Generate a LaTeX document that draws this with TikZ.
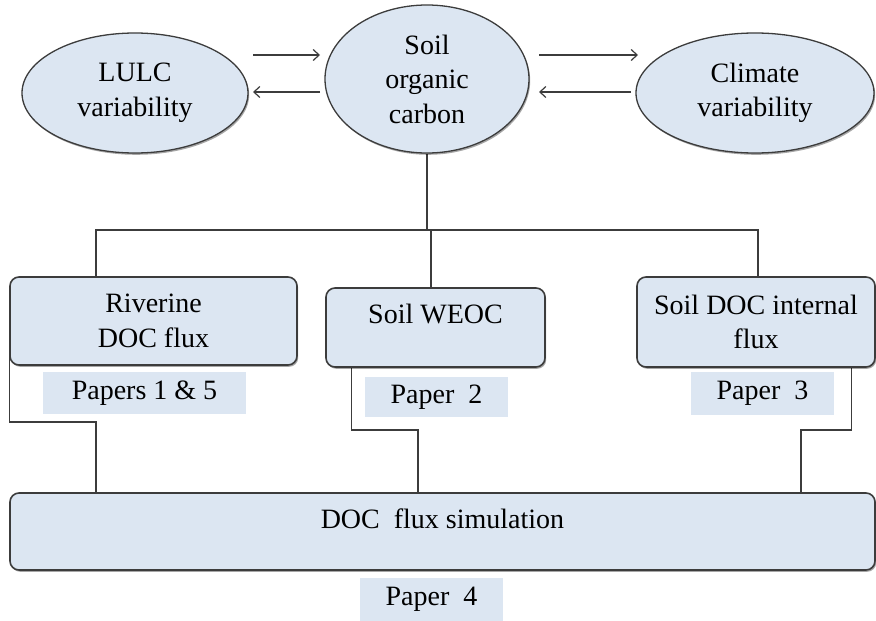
\documentclass[tikz,border=0pt]{standalone}
\usepackage{fontspec}
\newfontfamily\tnr{LiberationSerif-Regular.ttf}
\usetikzlibrary{shapes.geometric,shadows,arrows.meta,backgrounds}
\definecolor{boxfill}{HTML}{DCE6F2}
\definecolor{edge}{HTML}{3C3C3C}
\tikzset{
  shad/.style={drop shadow={shadow xshift=1.2pt,shadow yshift=-1.8pt,opacity=0.35,fill=black}},
  oval/.style={ellipse,draw=edge,line width=1.3pt,fill=boxfill,shad,align=center,inner sep=0pt},
  rbox/.style={rectangle,rounded corners=9pt,draw=edge,line width=1.6pt,fill=boxfill,shad,align=center,inner sep=0pt},
  tag/.style={rectangle,fill=boxfill,inner sep=0pt,align=center},
  link/.style={draw=edge,line width=1.3pt},
  arr/.style={link,-{Straight Barb[length=6pt,width=11pt,line width=1.2pt]}}
}
\begin{document}
\begin{tikzpicture}[x=1pt,y=-1pt,font=\tnr\fontsize{28}{34.5}\selectfont]
\useasboundingbox (0,0) rectangle (876,621);
\node[oval,minimum width=226pt,minimum height=120pt] (lulc) at (135,93) {LULC\\variability};
\node[oval,minimum width=204pt,minimum height=148pt] (soc) at (427,79) {Soil\\organic\\carbon};
\node[oval,minimum width=238pt,minimum height=120pt] (clim) at (755,93) {Climate\\variability};

\node[rbox,minimum width=287pt,minimum height=88pt] (riv) at (153.5,321) {Riverine\\DOC flux};
\node[rbox,minimum width=219pt,minimum height=79pt,text height=19pt,text depth=28pt] (weoc) at (435.5,327.5) {Soil WEOC};
\node[rbox,minimum width=238pt,minimum height=90pt] (doci) at (756,322) {Soil DOC internal\\flux};
\node[rbox,minimum width=865pt,minimum height=77pt,text height=19pt,text depth=26pt] (sim) at (442.5,531.5) {DOC~ flux simulation};

\node[tag,minimum width=203pt,minimum height=42pt] (p15) at (144.5,393) {Papers 1 \& 5};
\node[tag,minimum width=143pt,minimum height=40pt] (p2) at (436.5,397) {Paper~ 2};
\node[tag,minimum width=143pt,minimum height=43pt] (p3) at (762.5,393.5) {Paper~ 3};
\node[tag,minimum width=143pt,minimum height=43pt] (p4) at (431.5,599.5) {Paper~ 4};

\coordinate (la1) at (253,55);
\coordinate (la2) at (320,55);
\coordinate (lb1) at (320,92);
\coordinate (lb2) at (253,92);
\coordinate (ra1) at (539,55);
\coordinate (ra2) at (638,55);
\coordinate (rb1) at (631,92);
\coordinate (rb2) at (539,92);
\draw[arr] (la1) -- (la2);
\draw[arr] (lb1) -- (lb2);
\draw[arr] (ra1) -- (ra2);
\draw[arr] (rb1) -- (rb2);

\begin{scope}[on background layer]
\coordinate (hub) at (427,230);
\draw[link] (soc.south) -- (hub);
\draw[link] (hub) -| ([xshift=-57.5pt]riv.north);
\draw[link] (hub) -| ([xshift=2pt]doci.north);
\draw[link] (hub) -- ([xshift=-4.5pt]weoc.north |- hub) -- ([xshift=-4.5pt]weoc.north);
\draw[link] ([yshift=10pt]riv.south west) |- (96,422) -- (96,422 |- sim.north);
\draw[link] ([xshift=26pt,yshift=4pt]weoc.south west) |- (418,430) -- (418,430 |- sim.north);
\draw[link] ([xshift=-24pt,yshift=4pt]doci.south east) |- (801,430) -- (801,430 |- sim.north);
\end{scope}
\end{tikzpicture}
\end{document}
